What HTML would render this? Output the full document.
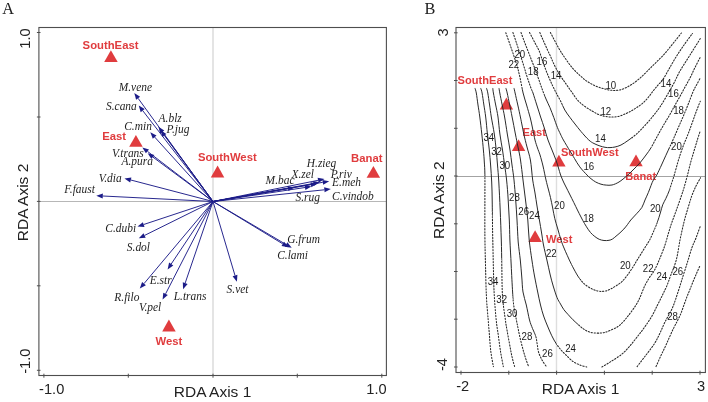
<!DOCTYPE html>
<html><head><meta charset="utf-8"><style>
html,body{margin:0;padding:0;background:#fff;}
svg{display:block;will-change:transform;}
</style></head><body>
<svg width="708" height="402" viewBox="0 0 708 402">
<rect width="708" height="402" fill="#fff"/>
<text x="2.3" y="13.6" font-family="Liberation Serif" font-size="16.3" fill="#222">A</text>
<text x="424.5" y="13.6" font-family="Liberation Serif" font-size="16.3" fill="#222">B</text>
<line x1="213.0" y1="27.5" x2="213.0" y2="375.5" stroke="#dedede" stroke-width="1.6"/>
<line x1="38.9" y1="201.5" x2="386.4" y2="201.5" stroke="#a4a4a4" stroke-width="0.8"/>
<rect x="38.9" y="27.5" width="347.5" height="348.0" fill="none" stroke="#4e4e4e" stroke-width="1.1"/>
<line x1="43.9" y1="373.7" x2="43.9" y2="377.7" stroke="#4e4e4e" stroke-width="1"/>
<line x1="128.3" y1="373.7" x2="128.3" y2="377.7" stroke="#4e4e4e" stroke-width="1"/>
<line x1="213.0" y1="373.7" x2="213.0" y2="377.7" stroke="#4e4e4e" stroke-width="1"/>
<line x1="297.3" y1="373.7" x2="297.3" y2="377.7" stroke="#4e4e4e" stroke-width="1"/>
<line x1="381.8" y1="373.7" x2="381.8" y2="377.7" stroke="#4e4e4e" stroke-width="1"/>
<line x1="40.5" y1="32.5" x2="36.9" y2="32.5" stroke="#4e4e4e" stroke-width="1"/>
<line x1="40.5" y1="117.0" x2="36.9" y2="117.0" stroke="#4e4e4e" stroke-width="1"/>
<line x1="40.5" y1="201.4" x2="36.9" y2="201.4" stroke="#4e4e4e" stroke-width="1"/>
<line x1="40.5" y1="285.8" x2="36.9" y2="285.8" stroke="#4e4e4e" stroke-width="1"/>
<line x1="40.5" y1="370.3" x2="36.9" y2="370.3" stroke="#4e4e4e" stroke-width="1"/>
<text x="51.7" y="393.8" font-family="Liberation Sans" font-size="14.6" fill="#222" text-anchor="middle">-1.0</text>
<text x="376.5" y="393.8" font-family="Liberation Sans" font-size="14.6" fill="#222" text-anchor="middle">1.0</text>
<text transform="translate(212.5,397.2) scale(1.055,1)" font-family="Liberation Sans" font-size="14.7" fill="#222" text-anchor="middle">RDA Axis 1</text>
<text transform="translate(30.2,38.5) rotate(-90)" font-family="Liberation Sans" font-size="14.6" fill="#222" text-anchor="middle">1.0</text>
<text transform="translate(30.0,361.2) rotate(-90)" font-family="Liberation Sans" font-size="14.6" fill="#222" text-anchor="middle">-1.0</text>
<text transform="translate(28.0,202.5) rotate(-90) scale(1.055,1)" font-family="Liberation Sans" font-size="14.7" fill="#222" text-anchor="middle">RDA Axis 2</text>
<line x1="213.0" y1="201.5" x2="138.1" y2="98.3" stroke="#1c1c88" stroke-width="0.95"/><polygon points="134.3,93.0 140.1,96.8 136.1,99.7" fill="#1c1c88"/>
<line x1="213.0" y1="201.5" x2="142.7" y2="110.6" stroke="#1c1c88" stroke-width="0.95"/><polygon points="138.7,105.5 144.7,109.1 140.7,112.2" fill="#1c1c88"/>
<line x1="213.0" y1="201.5" x2="162.2" y2="132.0" stroke="#1c1c88" stroke-width="0.95"/><polygon points="158.4,126.8 164.3,130.6 160.2,133.5" fill="#1c1c88"/>
<line x1="213.0" y1="201.5" x2="164.4" y2="135.5" stroke="#1c1c88" stroke-width="0.95"/><polygon points="160.5,130.3 166.4,134.0 162.3,137.0" fill="#1c1c88"/>
<line x1="213.0" y1="201.5" x2="154.7" y2="137.1" stroke="#1c1c88" stroke-width="0.95"/><polygon points="150.3,132.3 156.5,135.4 152.8,138.8" fill="#1c1c88"/>
<line x1="213.0" y1="201.5" x2="147.5" y2="151.4" stroke="#1c1c88" stroke-width="0.95"/><polygon points="142.3,147.4 149.0,149.4 145.9,153.3" fill="#1c1c88"/>
<line x1="213.0" y1="201.5" x2="152.9" y2="157.1" stroke="#1c1c88" stroke-width="0.95"/><polygon points="147.7,153.2 154.4,155.1 151.4,159.1" fill="#1c1c88"/>
<line x1="213.0" y1="201.5" x2="130.8" y2="180.0" stroke="#1c1c88" stroke-width="0.95"/><polygon points="124.5,178.4 131.4,177.6 130.2,182.5" fill="#1c1c88"/>
<line x1="213.0" y1="201.5" x2="102.8" y2="196.0" stroke="#1c1c88" stroke-width="0.95"/><polygon points="96.3,195.7 102.9,193.5 102.7,198.5" fill="#1c1c88"/>
<line x1="213.0" y1="201.5" x2="143.7" y2="224.5" stroke="#1c1c88" stroke-width="0.95"/><polygon points="137.5,226.6 142.9,222.2 144.5,226.9" fill="#1c1c88"/>
<line x1="213.0" y1="201.5" x2="144.6" y2="235.4" stroke="#1c1c88" stroke-width="0.95"/><polygon points="138.8,238.3 143.5,233.2 145.7,237.7" fill="#1c1c88"/>
<line x1="213.0" y1="201.5" x2="171.2" y2="264.0" stroke="#1c1c88" stroke-width="0.95"/><polygon points="167.6,269.4 169.1,262.6 173.3,265.4" fill="#1c1c88"/>
<line x1="213.0" y1="201.5" x2="144.0" y2="283.6" stroke="#1c1c88" stroke-width="0.95"/><polygon points="139.8,288.6 142.1,282.0 145.9,285.2" fill="#1c1c88"/>
<line x1="213.0" y1="201.5" x2="165.6" y2="293.8" stroke="#1c1c88" stroke-width="0.95"/><polygon points="162.6,299.6 163.3,292.7 167.8,295.0" fill="#1c1c88"/>
<line x1="213.0" y1="201.5" x2="185.2" y2="283.0" stroke="#1c1c88" stroke-width="0.95"/><polygon points="183.1,289.2 182.8,282.2 187.6,283.9" fill="#1c1c88"/>
<line x1="213.0" y1="201.5" x2="235.0" y2="275.5" stroke="#1c1c88" stroke-width="0.95"/><polygon points="236.9,281.7 232.6,276.2 237.4,274.8" fill="#1c1c88"/>
<line x1="213.0" y1="201.5" x2="286.1" y2="244.5" stroke="#1c1c88" stroke-width="0.95"/><polygon points="291.7,247.8 284.8,246.7 287.4,242.3" fill="#1c1c88"/>
<line x1="213.0" y1="201.5" x2="282.8" y2="243.9" stroke="#1c1c88" stroke-width="0.95"/><polygon points="288.4,247.3 281.5,246.1 284.1,241.8" fill="#1c1c88"/>
<line x1="213.0" y1="201.5" x2="318.1" y2="180.3" stroke="#1c1c88" stroke-width="0.95"/><polygon points="324.5,179.0 318.6,182.7 317.6,177.8" fill="#1c1c88"/>
<line x1="213.0" y1="201.5" x2="310.9" y2="184.7" stroke="#1c1c88" stroke-width="0.95"/><polygon points="317.3,183.6 311.3,187.2 310.5,182.2" fill="#1c1c88"/>
<line x1="213.0" y1="201.5" x2="313.4" y2="183.5" stroke="#1c1c88" stroke-width="0.95"/><polygon points="319.8,182.3 313.8,185.9 313.0,181.0" fill="#1c1c88"/>
<line x1="213.0" y1="201.5" x2="288.0" y2="188.5" stroke="#1c1c88" stroke-width="0.95"/><polygon points="294.4,187.4 288.4,191.0 287.6,186.0" fill="#1c1c88"/>
<line x1="213.0" y1="201.5" x2="322.8" y2="182.3" stroke="#1c1c88" stroke-width="0.95"/><polygon points="329.2,181.2 323.2,184.8 322.4,179.9" fill="#1c1c88"/>
<line x1="213.0" y1="201.5" x2="305.0" y2="187.5" stroke="#1c1c88" stroke-width="0.95"/><polygon points="311.4,186.5 305.4,190.0 304.6,185.0" fill="#1c1c88"/>
<line x1="213.0" y1="201.5" x2="324.3" y2="189.8" stroke="#1c1c88" stroke-width="0.95"/><polygon points="330.8,189.1 324.6,192.3 324.1,187.3" fill="#1c1c88"/>
<text transform="translate(118.7,90.6) scale(1.05,1.14)" font-family="Liberation Serif" font-style="italic" font-size="10.9" fill="#1e1e1e">M.vene</text>
<text transform="translate(106.0,109.7) scale(1.05,1.14)" font-family="Liberation Serif" font-style="italic" font-size="10.9" fill="#1e1e1e">S.cana</text>
<text transform="translate(158.6,122.3) scale(1.05,1.14)" font-family="Liberation Serif" font-style="italic" font-size="10.9" fill="#1e1e1e">A.blz</text>
<text transform="translate(166.5,132.6) scale(1.05,1.14)" font-family="Liberation Serif" font-style="italic" font-size="10.9" fill="#1e1e1e">P.jug</text>
<text transform="translate(124.2,129.7) scale(1.05,1.14)" font-family="Liberation Serif" font-style="italic" font-size="10.9" fill="#1e1e1e">C.min</text>
<text transform="translate(111.9,156.5) scale(1.05,1.14)" font-family="Liberation Serif" font-style="italic" font-size="10.9" fill="#1e1e1e">V.trans</text>
<text transform="translate(121.4,164.5) scale(1.05,1.14)" font-family="Liberation Serif" font-style="italic" font-size="10.9" fill="#1e1e1e">A.pura</text>
<text transform="translate(98.7,182.4) scale(1.05,1.14)" font-family="Liberation Serif" font-style="italic" font-size="10.9" fill="#1e1e1e">V.dia</text>
<text transform="translate(64.3,192.7) scale(1.05,1.14)" font-family="Liberation Serif" font-style="italic" font-size="10.9" fill="#1e1e1e">F.faust</text>
<text transform="translate(105.3,232.1) scale(1.05,1.14)" font-family="Liberation Serif" font-style="italic" font-size="10.9" fill="#1e1e1e">C.dubi</text>
<text transform="translate(126.8,250.8) scale(1.05,1.14)" font-family="Liberation Serif" font-style="italic" font-size="10.9" fill="#1e1e1e">S.dol</text>
<text transform="translate(149.7,283.6) scale(1.05,1.14)" font-family="Liberation Serif" font-style="italic" font-size="10.9" fill="#1e1e1e">E.str</text>
<text transform="translate(114.3,300.5) scale(1.05,1.14)" font-family="Liberation Serif" font-style="italic" font-size="10.9" fill="#1e1e1e">R.filo</text>
<text transform="translate(138.9,311.1) scale(1.05,1.14)" font-family="Liberation Serif" font-style="italic" font-size="10.9" fill="#1e1e1e">V.pel</text>
<text transform="translate(173.7,299.8) scale(1.05,1.14)" font-family="Liberation Serif" font-style="italic" font-size="10.9" fill="#1e1e1e">L.trans</text>
<text transform="translate(226.6,293.1) scale(1.05,1.14)" font-family="Liberation Serif" font-style="italic" font-size="10.9" fill="#1e1e1e">S.vet</text>
<text transform="translate(287.2,243.2) scale(1.05,1.14)" font-family="Liberation Serif" font-style="italic" font-size="10.9" fill="#1e1e1e">G.frum</text>
<text transform="translate(277.2,258.7) scale(1.05,1.14)" font-family="Liberation Serif" font-style="italic" font-size="10.9" fill="#1e1e1e">C.lami</text>
<text transform="translate(306.8,167.2) scale(1.05,1.14)" font-family="Liberation Serif" font-style="italic" font-size="10.9" fill="#1e1e1e">H.zieg</text>
<text transform="translate(291.5,177.7) scale(1.05,1.14)" font-family="Liberation Serif" font-style="italic" font-size="10.9" fill="#1e1e1e">X.zel</text>
<text transform="translate(330.7,177.7) scale(1.05,1.14)" font-family="Liberation Serif" font-style="italic" font-size="10.9" fill="#1e1e1e">P.riv</text>
<text transform="translate(265.6,183.6) scale(1.05,1.14)" font-family="Liberation Serif" font-style="italic" font-size="10.9" fill="#1e1e1e">M.bac</text>
<text transform="translate(332.1,186.3) scale(1.05,1.14)" font-family="Liberation Serif" font-style="italic" font-size="10.9" fill="#1e1e1e">E.meh</text>
<text transform="translate(295.5,200.6) scale(1.05,1.14)" font-family="Liberation Serif" font-style="italic" font-size="10.9" fill="#1e1e1e">S.rug</text>
<text transform="translate(332.1,200.2) scale(1.05,1.14)" font-family="Liberation Serif" font-style="italic" font-size="10.9" fill="#1e1e1e">C.vindob</text>
<polygon points="110.9,50.3 104.2,62.1 117.7,62.1" fill="#e03c3e"/>
<text x="82.6" y="48.9" font-family="Liberation Sans" font-weight="bold" font-size="11.3" fill="#e03c3e">SouthEast</text>
<polygon points="135.9,134.9 129.2,146.7 142.7,146.7" fill="#e03c3e"/>
<text x="102.2" y="139.7" font-family="Liberation Sans" font-weight="bold" font-size="11.3" fill="#e03c3e">East</text>
<polygon points="217.6,165.6 210.8,177.4 224.3,177.4" fill="#e03c3e"/>
<text x="256.7" y="160.9" font-family="Liberation Sans" font-weight="bold" font-size="11.3" fill="#e03c3e" text-anchor="end">SouthWest</text>
<polygon points="373.4,166.0 366.6,177.8 380.1,177.8" fill="#e03c3e"/>
<text x="351.1" y="162.3" font-family="Liberation Sans" font-weight="bold" font-size="11.3" fill="#e03c3e">Banat</text>
<polygon points="168.9,319.6 162.2,331.4 175.7,331.4" fill="#e03c3e"/>
<text x="155.5" y="345.2" font-family="Liberation Sans" font-weight="bold" font-size="11.3" fill="#e03c3e">West</text>
<line x1="556.5" y1="27.5" x2="556.5" y2="372.5" stroke="#dedede" stroke-width="1.4"/>
<line x1="456.0" y1="176.5" x2="705.4" y2="176.5" stroke="#8c8c8c" stroke-width="0.8"/>
<polygon points="506.4,97.6 499.7,109.4 513.1,109.4" fill="#e03c3e"/>
<text x="457.6" y="84.2" font-family="Liberation Sans" font-weight="bold" font-size="11.1" fill="#e03c3e">SouthEast</text>
<polygon points="518.6,139.2 511.9,151.0 525.3,151.0" fill="#e03c3e"/>
<text x="522.5" y="136.4" font-family="Liberation Sans" font-weight="bold" font-size="11.1" fill="#e03c3e">East</text>
<polygon points="558.9,154.8 552.2,166.6 565.6,166.6" fill="#e03c3e"/>
<text x="560.9" y="155.6" font-family="Liberation Sans" font-weight="bold" font-size="11.1" fill="#e03c3e">SouthWest</text>
<polygon points="636.0,154.4 629.3,166.2 642.7,166.2" fill="#e03c3e"/>
<text x="625.3" y="179.6" font-family="Liberation Sans" font-weight="bold" font-size="11.1" fill="#e03c3e">Banat</text>
<polygon points="535.1,230.3 528.4,242.1 541.8,242.1" fill="#e03c3e"/>
<text x="546.1" y="243.4" font-family="Liberation Sans" font-weight="bold" font-size="11.1" fill="#e03c3e">West</text>
<defs>
<clipPath id="inR"><path d="M465,87.3 L520,87.3 L533,91 L547,97 L564,106 L585,122 L610,131 L628,135 L634,141 L651,147 L660,149 L669,149 L670,199 L653,231 L620,258 L580,279 L578.7,325 L556.3,344 L535.7,336 L513,299 L500.7,257 L492.4,216 L484.9,174 L465,174 Z"/></clipPath>
<clipPath id="outR"><path clip-rule="evenodd" d="M0,0 L708,0 L708,402 L0,402 Z M465,87.3 L520,87.3 L533,91 L547,97 L564,106 L585,122 L610,131 L628,135 L634,141 L651,147 L660,149 L669,149 L670,199 L653,231 L620,258 L580,279 L578.7,325 L556.3,344 L535.7,336 L513,299 L500.7,257 L492.4,216 L484.9,174 L465,174 Z"/></clipPath>
</defs>
<g fill="none" stroke="#2a2a2a" stroke-width="1" clip-path="url(#inR)">
<path d="M550.4,32.5 C551.8,35.1 556.2,43.6 558.6,47.9 C561.0,52.1 562.7,54.7 565.0,58.0 C567.3,61.3 569.8,64.9 572.3,67.8 C574.8,70.7 577.5,73.2 580.0,75.5 C582.5,77.8 584.5,79.6 587.2,81.4 C589.9,83.2 593.1,85.0 596.0,86.2 C598.9,87.5 601.8,88.2 604.6,88.9 C607.4,89.6 610.3,90.3 613.0,90.4 C615.7,90.5 618.2,90.4 621.0,89.6 C623.8,88.8 627.0,87.3 630.0,85.5 C633.0,83.7 636.1,81.4 639.0,79.0 C641.9,76.6 644.6,73.8 647.4,71.0 C650.2,68.2 653.1,65.4 656.0,62.5 C658.9,59.6 662.0,56.7 664.8,53.5 C667.6,50.3 670.2,46.9 673.0,43.5 C675.8,40.1 680.0,34.8 681.4,33.0"/>
<path d="M539.8,32.5 C540.4,33.9 542.2,38.1 543.5,41.0 C544.8,43.9 546.3,47.3 547.5,50.0 C548.7,52.7 549.8,54.7 550.8,57.0 C551.8,59.3 552.6,61.4 553.7,63.7 C554.8,66.0 556.2,68.8 557.5,71.0 C558.8,73.2 560.0,75.1 561.2,77.0 C562.4,78.9 563.3,80.0 564.9,82.3 C566.5,84.6 568.9,88.1 571.0,91.0 C573.1,93.9 575.1,97.3 577.3,99.8 C579.5,102.3 581.5,103.9 584.0,105.8 C586.5,107.7 589.8,109.6 592.1,111.0 C594.4,112.4 595.9,113.4 598.0,114.3 C600.1,115.2 602.4,115.8 604.6,116.2 C606.8,116.7 608.8,117.0 611.0,117.0 C613.2,117.0 615.5,117.1 618.0,116.5 C620.5,115.9 623.7,114.6 626.0,113.6 C628.3,112.6 630.0,111.7 632.0,110.5 C634.0,109.3 636.3,107.9 638.2,106.6 C640.1,105.3 641.8,104.1 643.5,102.5 C645.2,100.9 646.9,99.1 648.6,97.0 C650.3,94.9 652.2,92.1 653.9,90.0 C655.5,87.9 657.0,86.3 658.5,84.5 C660.0,82.7 661.2,82.0 663.0,79.4 C664.8,76.8 666.8,72.7 669.0,69.0 C671.2,65.3 673.5,61.0 676.0,57.0 C678.5,53.0 681.3,48.9 684.0,45.0 C686.7,41.1 691.0,35.4 692.4,33.5"/>
<path d="M529.5,32.5 C530.4,34.2 533.4,39.8 535.0,42.9 C536.6,46.0 538.0,48.1 539.2,51.0 C540.4,53.9 541.2,57.0 542.3,60.0 C543.3,63.0 544.4,66.0 545.5,69.0 C546.6,72.0 547.8,75.0 549.0,77.7 C550.2,80.5 551.3,83.0 552.5,85.5 C553.7,88.0 554.7,90.1 556.0,92.6 C557.3,95.1 558.8,97.6 560.3,100.5 C561.8,103.4 563.2,107.2 564.8,110.0 C566.4,112.8 568.3,115.2 570.0,117.5 C571.7,119.8 573.2,121.7 575.0,124.0 C576.8,126.3 578.7,128.8 581.0,131.5 C583.3,134.2 586.6,138.0 588.8,140.0 C591.0,142.0 592.1,142.5 594.0,143.5 C595.9,144.5 598.2,145.4 600.0,146.0 C601.8,146.6 603.3,147.0 605.0,147.3 C606.7,147.6 608.3,147.7 610.0,147.6 C611.7,147.5 613.2,147.4 615.0,147.0 C616.8,146.6 618.8,146.1 621.0,145.0 C623.2,143.9 625.5,142.3 628.0,140.5 C630.5,138.7 633.2,136.9 636.0,134.4 C638.8,131.9 642.0,128.6 645.0,125.4 C648.0,122.2 651.3,118.3 653.9,115.0 C656.5,111.7 658.3,109.5 660.8,105.7 C663.3,101.9 666.7,95.9 668.9,92.1 C671.1,88.3 672.1,86.5 674.0,83.0 C675.9,79.5 677.3,75.7 680.0,71.0 C682.7,66.3 686.6,60.5 690.0,55.0 C693.4,49.5 698.8,41.1 700.5,38.3"/>
<path d="M521.0,32.5 C521.6,34.1 523.3,38.9 524.5,42.0 C525.7,45.1 526.8,48.0 528.0,51.0 C529.2,54.0 530.3,57.0 531.5,60.0 C532.7,63.0 533.8,65.8 535.0,69.0 C536.2,72.2 537.5,76.0 538.8,79.5 C540.0,83.0 541.3,86.8 542.5,90.1 C543.7,93.3 544.8,96.1 546.0,99.0 C547.2,101.9 548.6,104.4 549.9,107.5 C551.2,110.6 552.5,114.2 553.8,117.5 C555.0,120.8 556.3,124.7 557.4,127.4 C558.5,130.2 559.4,131.9 560.4,134.0 C561.4,136.1 561.8,137.2 563.4,140.0 C565.0,142.8 568.0,147.8 569.9,150.9 C571.8,154.0 572.9,155.8 574.5,158.5 C576.1,161.2 577.7,164.2 579.8,166.9 C581.9,169.7 585.1,173.0 587.0,175.0 C588.9,177.0 589.5,177.5 591.0,178.7 C592.5,179.9 594.0,181.1 595.7,182.0 C597.4,182.9 599.2,183.7 601.0,184.2 C602.8,184.7 604.4,185.0 606.2,185.1 C608.0,185.2 609.9,185.5 612.0,185.0 C614.1,184.5 616.5,183.5 619.0,182.0 C621.5,180.5 624.6,177.8 626.9,175.8 C629.2,173.8 630.8,172.2 633.0,170.0 C635.2,167.8 637.7,165.4 639.9,162.9 C642.1,160.4 644.1,157.5 646.0,155.0 C647.9,152.5 649.4,150.4 651.0,147.8 C652.6,145.2 654.0,142.2 655.5,139.5 C657.0,136.8 658.4,134.2 659.9,131.4 C661.4,128.7 663.2,125.7 664.8,123.0 C666.4,120.3 668.0,117.8 669.6,115.0 C671.2,112.2 672.9,108.9 674.5,106.0 C676.1,103.1 677.7,100.4 679.4,97.4 C681.1,94.4 682.7,91.2 684.5,88.0 C686.3,84.8 688.3,81.2 690.0,78.0 C691.7,74.8 693.0,71.5 694.5,68.5 C696.0,65.5 697.8,61.9 698.8,60.0 C699.8,58.1 700.1,57.5 700.4,57.0"/>
<path d="M512.9,32.5 C513.5,34.2 515.3,39.4 516.5,43.0 C517.7,46.6 518.8,50.3 520.0,54.0 C521.2,57.7 522.4,61.5 523.5,65.0 C524.6,68.5 525.5,71.8 526.5,75.0 C527.5,78.2 528.6,81.4 529.5,84.0 C530.4,86.6 531.3,89.0 531.9,90.5 C532.5,92.0 532.2,90.6 533.0,93.0 C533.8,95.4 535.5,101.0 536.8,105.0 C538.1,109.0 539.4,113.2 540.6,117.0 C541.9,120.8 543.1,124.2 544.3,128.0 C545.5,131.8 546.7,136.3 548.0,140.0 C549.3,143.7 550.7,146.7 552.0,150.0 C553.3,153.3 554.8,156.9 555.9,159.9 C557.0,162.9 557.7,165.5 558.5,168.0 C559.3,170.5 559.7,172.5 560.6,175.0 C561.5,177.5 562.8,180.4 564.0,183.0 C565.2,185.6 566.6,188.1 567.9,190.7 C569.2,193.3 570.5,195.9 571.8,198.5 C573.1,201.1 574.5,203.9 575.7,206.4 C576.9,208.9 578.0,211.2 579.2,213.5 C580.4,215.8 581.5,218.1 582.7,220.3 C583.9,222.5 585.2,224.8 586.5,226.8 C587.8,228.8 589.1,230.9 590.5,232.5 C591.9,234.1 593.3,235.4 594.8,236.5 C596.2,237.6 597.7,238.6 599.2,239.3 C600.7,240.0 602.4,240.3 604.0,240.5 C605.6,240.7 607.6,240.6 609.0,240.3 C610.4,240.1 611.3,239.7 612.5,239.0 C613.7,238.3 614.8,237.2 616.0,236.2 C617.2,235.2 618.7,234.0 620.0,232.8 C621.3,231.6 622.7,230.3 623.9,229.0 C625.1,227.7 626.2,226.2 627.4,224.7 C628.5,223.2 629.3,221.8 630.8,220.0 C632.3,218.2 634.7,215.9 636.5,213.8 C638.3,211.7 640.4,209.9 641.8,207.6 C643.2,205.3 643.9,202.5 645.0,200.0 C646.1,197.5 647.4,194.8 648.4,192.4 C649.4,190.0 650.2,187.6 651.0,185.5 C651.8,183.4 652.4,181.8 653.4,180.0 C654.4,178.2 655.4,177.4 656.8,174.9 C658.1,172.4 660.0,168.3 661.5,165.0 C663.0,161.7 664.5,158.4 665.9,155.3 C667.3,152.2 668.6,149.5 670.0,146.5 C671.4,143.5 672.6,140.8 674.1,137.4 C675.6,134.0 677.4,129.7 679.0,126.0 C680.6,122.3 682.2,118.8 683.8,115.0 C685.4,111.2 687.0,107.3 688.5,103.5 C690.0,99.7 691.6,95.2 692.9,92.1 C694.2,89.0 695.2,87.4 696.5,85.0 C697.8,82.6 699.8,78.8 700.4,77.6"/>
<path d="M505.8,32.7 C506.6,34.9 509.0,41.6 510.5,46.0 C512.0,50.4 513.7,55.3 515.0,59.3 C516.3,63.3 517.3,66.5 518.2,70.0 C519.1,73.5 519.7,76.2 520.5,80.0 C521.3,83.8 522.1,88.8 523.1,93.0 C524.1,97.2 525.4,100.8 526.6,105.0 C527.8,109.2 529.3,114.2 530.3,118.0 C531.3,121.8 531.7,124.3 532.5,128.0 C533.3,131.7 534.2,136.7 535.0,140.0 C535.8,143.3 536.7,145.5 537.5,148.0 C538.3,150.5 539.1,151.9 540.0,154.9 C540.9,157.9 542.0,161.8 543.0,166.0 C544.0,170.2 545.1,176.2 546.0,180.0 C546.9,183.8 547.5,186.1 548.3,189.0 C549.0,191.9 549.8,194.4 550.5,197.6 C551.2,200.8 552.0,204.5 552.7,208.0 C553.4,211.5 553.9,215.1 554.8,218.6 C555.6,222.1 556.8,225.4 557.8,229.0 C558.8,232.6 560.0,236.8 561.0,240.0 C562.0,243.2 562.9,245.4 564.0,248.0 C565.1,250.6 566.1,252.9 567.4,255.7 C568.6,258.4 570.0,261.6 571.5,264.5 C573.0,267.4 574.8,270.8 576.1,273.1 C577.4,275.4 578.3,276.9 579.5,278.5 C580.7,280.1 581.7,281.3 583.1,282.7 C584.5,284.1 586.2,285.5 588.0,286.7 C589.8,287.9 591.9,289.0 593.6,289.7 C595.3,290.4 596.5,290.7 598.0,291.0 C599.5,291.3 600.8,291.5 602.3,291.4 C603.8,291.3 605.5,291.0 607.0,290.6 C608.5,290.2 609.4,289.6 611.0,288.8 C612.6,288.0 614.7,286.8 616.5,285.6 C618.3,284.4 620.1,283.4 621.9,281.7 C623.6,280.0 625.4,277.8 627.0,275.7 C628.6,273.6 630.3,271.0 631.8,268.8 C633.3,266.6 634.5,264.5 635.8,262.3 C637.1,260.1 638.3,258.2 639.8,255.8 C641.3,253.4 643.1,250.5 644.8,247.8 C646.4,245.2 648.2,242.6 649.7,239.9 C651.2,237.2 652.2,234.4 653.5,231.5 C654.8,228.6 656.2,225.5 657.3,222.4 C658.4,219.3 659.4,215.9 660.3,213.0 C661.2,210.1 661.8,207.2 662.7,204.8 C663.6,202.4 664.7,201.1 665.8,198.6 C666.9,196.1 668.5,192.8 669.5,190.0 C670.5,187.2 671.2,184.5 672.0,182.0 C672.8,179.5 673.4,178.2 674.3,175.0 C675.2,171.8 676.6,166.5 677.6,163.0 C678.6,159.5 679.5,156.8 680.4,154.0 C681.3,151.2 682.2,148.7 683.2,146.0 C684.2,143.3 685.4,140.7 686.5,138.0 C687.6,135.3 688.6,132.7 689.6,130.0 C690.6,127.3 691.5,124.7 692.5,122.0 C693.5,119.3 694.4,116.4 695.3,114.0 C696.2,111.6 697.0,109.6 697.8,107.5 C698.6,105.4 699.9,102.2 700.3,101.2"/>
<path d="M514.0,88.2 C514.2,89.0 514.5,90.2 515.1,93.0 C515.7,95.8 516.9,101.0 517.8,105.0 C518.7,109.0 519.7,113.7 520.4,117.0 C521.1,120.3 521.4,122.2 522.0,125.0 C522.6,127.8 523.0,130.3 523.8,134.0 C524.6,137.7 525.9,142.7 527.0,147.0 C528.1,151.3 529.4,154.5 530.4,160.0 C531.4,165.5 531.9,174.5 532.7,180.0 C533.5,185.5 534.3,188.7 535.0,193.0 C535.7,197.3 536.3,201.5 537.0,206.0 C537.7,210.5 538.6,215.5 539.4,220.0 C540.2,224.5 540.9,228.8 541.6,233.0 C542.3,237.2 542.6,240.5 543.5,245.0 C544.4,249.5 545.8,255.2 546.9,260.0 C548.0,264.8 549.0,269.7 550.0,274.0 C551.0,278.3 552.0,282.1 553.2,286.0 C554.4,289.9 555.8,294.5 557.0,297.5 C558.2,300.5 559.4,302.0 560.5,304.0 C561.6,306.0 562.7,308.0 563.9,309.7 C565.1,311.4 566.4,312.6 567.9,314.3 C569.4,316.0 571.2,318.0 573.0,319.8 C574.8,321.6 577.0,323.5 578.7,325.0 C580.4,326.5 581.5,327.6 583.0,328.6 C584.5,329.7 585.9,330.6 587.6,331.3 C589.3,332.0 590.9,332.5 593.0,332.8 C595.1,333.1 598.1,333.2 600.1,333.1 C602.1,333.0 603.2,332.8 605.0,332.3 C606.8,331.8 608.6,331.2 611.0,330.1 C613.4,329.0 616.7,327.8 619.5,325.4 C622.3,323.0 625.0,319.9 628.0,316.0 C631.0,312.1 635.0,307.1 637.8,302.0 C640.6,296.9 642.8,289.8 644.8,285.7 C646.8,281.6 647.9,280.1 649.5,277.5 C651.1,274.9 653.0,273.1 654.7,269.8 C656.5,266.6 658.3,262.1 660.0,258.0 C661.7,253.9 663.6,249.2 665.0,245.0 C666.4,240.8 667.3,236.8 668.5,233.0 C669.7,229.2 670.6,225.9 672.0,222.0 C673.4,218.1 675.1,213.8 676.6,209.5 C678.1,205.2 680.0,200.0 681.3,196.1 C682.6,192.2 683.5,189.5 684.5,186.0 C685.5,182.5 686.5,178.8 687.5,175.0 C688.5,171.2 689.4,167.0 690.5,163.0 C691.6,159.0 692.9,154.7 694.0,151.0 C695.1,147.3 696.0,144.4 697.0,141.0 C698.0,137.6 699.8,132.4 700.3,130.7"/>
<path d="M505.9,88.2 C506.1,89.0 506.6,90.2 507.2,93.0 C507.8,95.8 508.9,101.0 509.7,105.0 C510.5,109.0 511.2,112.2 512.1,117.0 C513.1,121.8 514.4,129.0 515.4,134.0 C516.4,139.0 517.1,142.7 518.0,147.0 C518.9,151.3 519.7,154.5 520.5,160.0 C521.3,165.5 522.2,173.3 523.0,180.0 C523.8,186.7 524.7,193.3 525.5,200.0 C526.3,206.7 527.2,213.3 527.8,220.0 C528.4,226.7 528.5,233.3 529.2,240.0 C529.9,246.7 531.0,254.0 531.9,260.0 C532.8,266.0 533.5,270.7 534.5,276.0 C535.5,281.3 536.7,287.2 537.7,292.0 C538.7,296.8 539.5,301.0 540.5,305.0 C541.5,309.0 542.4,312.5 543.6,316.0 C544.8,319.5 546.1,322.7 547.5,326.0 C548.9,329.3 550.3,332.8 551.8,335.8 C553.3,338.8 554.7,341.4 556.3,343.8 C557.9,346.2 559.7,348.5 561.5,350.5 C563.3,352.5 565.0,354.1 567.0,356.0 C569.0,357.9 571.1,360.2 573.3,361.7 C575.5,363.2 577.8,364.1 580.0,365.0 C582.2,365.9 585.6,366.7 586.7,367.0"/>
<path d="M601.9,367.0 C603.4,366.1 607.8,363.6 611.0,361.5 C614.2,359.4 618.2,357.1 621.2,354.7 C624.2,352.3 626.5,349.8 629.0,347.0 C631.5,344.2 633.8,341.2 636.3,338.0 C638.8,334.8 641.5,331.5 644.0,328.0 C646.5,324.5 649.2,320.6 651.5,316.8 C653.8,313.0 655.7,308.6 657.5,305.0 C659.3,301.4 661.0,298.2 662.5,295.0 C664.0,291.8 665.4,289.2 666.8,286.0 C668.1,282.8 669.0,280.1 670.6,275.7 C672.2,271.3 674.7,265.8 676.3,259.8 C677.9,253.9 678.7,246.3 680.0,240.0 C681.3,233.7 682.7,227.3 684.0,222.0 C685.3,216.7 686.7,212.3 688.0,208.0 C689.3,203.7 690.4,199.8 691.7,196.1 C693.0,192.4 694.5,189.1 696.0,186.0 C697.5,182.9 699.8,179.2 700.5,177.8"/>
<path d="M499.0,88.2 C499.1,89.0 499.3,90.2 499.8,93.0 C500.3,95.8 501.4,101.0 502.2,105.0 C503.0,109.0 503.8,112.2 504.6,117.0 C505.5,121.8 506.4,128.5 507.3,134.0 C508.2,139.5 509.2,144.8 510.0,150.0 C510.8,155.2 511.3,160.0 512.0,165.0 C512.7,170.0 513.4,174.2 514.0,180.0 C514.6,185.8 515.2,193.3 515.7,200.0 C516.2,206.7 516.6,213.0 517.0,220.0 C517.4,227.0 517.7,235.3 518.2,242.0 C518.8,248.7 519.7,254.3 520.3,260.0 C520.9,265.7 521.2,270.7 521.7,276.0 C522.2,281.3 522.2,287.2 523.0,292.0 C523.8,296.8 525.2,300.3 526.3,305.0 C527.4,309.7 528.5,316.1 529.5,320.0 C530.5,323.9 531.5,325.8 532.5,328.5 C533.5,331.2 534.9,333.4 535.7,336.0 C536.5,338.6 536.7,341.3 537.2,344.0 C537.7,346.7 537.7,349.3 538.5,352.0 C539.3,354.7 540.7,357.6 542.0,360.0 C543.3,362.4 545.7,365.5 546.4,366.6"/>
<path d="M637.1,366.6 C638.6,364.7 643.0,358.9 646.0,355.0 C649.0,351.1 652.5,346.8 654.8,343.1 C657.1,339.4 658.3,336.5 660.0,333.0 C661.7,329.5 662.9,326.2 665.0,322.0 C667.1,317.8 670.3,312.7 672.5,307.7 C674.7,302.7 676.2,297.3 678.0,292.0 C679.8,286.7 681.5,280.9 683.1,275.9 C684.7,270.9 686.0,266.7 687.5,262.0 C689.0,257.3 690.6,251.4 691.9,247.7 C693.2,244.0 694.2,242.4 695.2,240.0 C696.2,237.6 696.9,235.4 697.8,233.0 C698.7,230.6 700.0,226.9 700.5,225.7"/>
<path d="M492.8,88.2 C492.9,89.0 492.9,90.2 493.4,93.0 C493.9,95.8 494.9,101.0 495.7,105.0 C496.5,109.0 497.3,112.2 498.0,117.0 C498.7,121.8 499.1,128.5 499.9,134.0 C500.6,139.5 501.7,144.8 502.5,150.0 C503.3,155.2 503.9,160.0 504.6,165.0 C505.3,170.0 506.0,174.2 506.6,180.0 C507.2,185.8 507.8,193.3 508.2,200.0 C508.6,206.7 509.0,213.3 509.3,220.0 C509.6,226.7 509.6,232.5 509.9,240.0 C510.2,247.5 510.8,256.3 511.2,265.0 C511.6,273.7 512.2,285.3 512.6,292.0 C513.0,298.7 513.1,300.3 513.7,305.0 C514.3,309.7 515.6,315.8 516.4,320.0 C517.2,324.2 517.7,326.5 518.4,330.0 C519.1,333.5 519.9,337.3 520.8,341.0 C521.7,344.7 522.8,348.8 523.7,352.0 C524.6,355.2 525.4,357.6 526.2,360.0 C527.0,362.4 528.2,365.5 528.6,366.6"/>
<path d="M656.0,366.6 C656.8,364.9 659.0,359.8 660.5,356.5 C662.0,353.2 663.6,350.1 665.1,347.0 C666.6,343.9 667.8,340.8 669.2,337.8 C670.6,334.8 672.0,331.4 673.3,328.8 C674.6,326.2 675.6,324.3 676.8,322.0 C677.9,319.7 679.1,317.7 680.2,315.2 C681.3,312.7 682.3,309.6 683.3,306.8 C684.3,304.0 685.3,301.2 686.3,298.5 C687.3,295.8 688.4,293.3 689.4,290.8 C690.4,288.3 691.3,286.1 692.4,283.3 C693.5,280.5 694.9,277.2 696.2,274.2 C697.5,271.1 699.6,266.5 700.3,265.0"/>
<path d="M486.5,88.2 C486.7,89.0 487.3,90.2 487.8,93.0 C488.3,95.8 489.0,101.0 489.6,105.0 C490.2,109.0 490.5,112.2 491.3,117.0 C492.1,121.8 493.5,128.5 494.3,134.0 C495.1,139.5 495.7,144.8 496.2,150.0 C496.7,155.2 497.1,159.7 497.5,165.0 C497.9,170.3 498.4,174.5 498.8,182.0 C499.2,189.5 499.8,200.3 500.2,210.0 C500.6,219.7 501.0,230.8 501.3,240.0 C501.6,249.2 501.6,255.7 501.8,265.0 C502.0,274.3 501.9,286.8 502.5,296.0 C503.1,305.2 504.6,314.3 505.4,320.0 C506.1,325.7 506.4,326.5 507.0,330.0 C507.6,333.5 508.3,337.3 509.0,341.0 C509.7,344.7 510.4,348.8 511.0,352.0 C511.6,355.2 512.2,357.6 512.8,360.0 C513.4,362.4 514.3,365.5 514.6,366.6"/>
<path d="M480.7,88.2 C480.9,89.0 481.6,90.2 482.1,93.0 C482.6,95.8 483.3,101.0 483.9,105.0 C484.5,109.0 485.1,112.2 485.7,117.0 C486.3,121.8 486.8,128.5 487.4,134.0 C488.0,139.5 488.8,144.8 489.3,150.0 C489.8,155.2 490.2,159.7 490.6,165.0 C491.0,170.3 491.4,176.2 491.7,182.0 C492.0,187.8 492.1,194.3 492.2,200.0 C492.3,205.7 492.3,210.0 492.4,216.0 C492.5,222.0 492.5,227.8 492.7,236.0 C492.9,244.2 493.1,255.3 493.3,265.0 C493.6,274.7 493.7,284.8 494.2,294.0 C494.7,303.2 495.5,313.0 496.2,320.0 C496.9,327.0 497.7,330.7 498.4,336.0 C499.1,341.3 499.8,346.9 500.6,352.0 C501.4,357.1 502.9,364.2 503.3,366.6"/>
<path d="M475.0,88.2 C475.2,89.0 475.8,90.2 476.3,93.0 C476.8,95.8 477.4,101.0 478.0,105.0 C478.6,109.0 479.2,112.2 479.8,117.0 C480.4,121.8 481.2,128.5 481.8,134.0 C482.4,139.5 483.0,145.3 483.4,150.0 C483.8,154.7 484.1,157.8 484.3,162.0 C484.6,166.2 484.8,168.7 484.9,175.0 C485.0,181.3 484.9,189.8 484.9,200.0 C484.9,210.2 484.8,225.2 484.9,236.0 C485.0,246.8 485.2,255.0 485.5,265.0 C485.8,275.0 485.9,286.8 486.4,296.0 C486.8,305.2 487.7,313.3 488.2,320.0 C488.7,326.7 489.1,330.7 489.5,336.0 C489.9,341.3 490.2,346.9 490.9,352.0 C491.5,357.1 493.0,364.2 493.4,366.6"/>
</g>
<g fill="none" stroke="#262626" stroke-width="1.05" stroke-linecap="round" stroke-dasharray="1.3 1.7" clip-path="url(#outR)">
<path d="M550.4,32.5 C551.8,35.1 556.2,43.6 558.6,47.9 C561.0,52.1 562.7,54.7 565.0,58.0 C567.3,61.3 569.8,64.9 572.3,67.8 C574.8,70.7 577.5,73.2 580.0,75.5 C582.5,77.8 584.5,79.6 587.2,81.4 C589.9,83.2 593.1,85.0 596.0,86.2 C598.9,87.5 601.8,88.2 604.6,88.9 C607.4,89.6 610.3,90.3 613.0,90.4 C615.7,90.5 618.2,90.4 621.0,89.6 C623.8,88.8 627.0,87.3 630.0,85.5 C633.0,83.7 636.1,81.4 639.0,79.0 C641.9,76.6 644.6,73.8 647.4,71.0 C650.2,68.2 653.1,65.4 656.0,62.5 C658.9,59.6 662.0,56.7 664.8,53.5 C667.6,50.3 670.2,46.9 673.0,43.5 C675.8,40.1 680.0,34.8 681.4,33.0"/>
<path d="M539.8,32.5 C540.4,33.9 542.2,38.1 543.5,41.0 C544.8,43.9 546.3,47.3 547.5,50.0 C548.7,52.7 549.8,54.7 550.8,57.0 C551.8,59.3 552.6,61.4 553.7,63.7 C554.8,66.0 556.2,68.8 557.5,71.0 C558.8,73.2 560.0,75.1 561.2,77.0 C562.4,78.9 563.3,80.0 564.9,82.3 C566.5,84.6 568.9,88.1 571.0,91.0 C573.1,93.9 575.1,97.3 577.3,99.8 C579.5,102.3 581.5,103.9 584.0,105.8 C586.5,107.7 589.8,109.6 592.1,111.0 C594.4,112.4 595.9,113.4 598.0,114.3 C600.1,115.2 602.4,115.8 604.6,116.2 C606.8,116.7 608.8,117.0 611.0,117.0 C613.2,117.0 615.5,117.1 618.0,116.5 C620.5,115.9 623.7,114.6 626.0,113.6 C628.3,112.6 630.0,111.7 632.0,110.5 C634.0,109.3 636.3,107.9 638.2,106.6 C640.1,105.3 641.8,104.1 643.5,102.5 C645.2,100.9 646.9,99.1 648.6,97.0 C650.3,94.9 652.2,92.1 653.9,90.0 C655.5,87.9 657.0,86.3 658.5,84.5 C660.0,82.7 661.2,82.0 663.0,79.4 C664.8,76.8 666.8,72.7 669.0,69.0 C671.2,65.3 673.5,61.0 676.0,57.0 C678.5,53.0 681.3,48.9 684.0,45.0 C686.7,41.1 691.0,35.4 692.4,33.5"/>
<path d="M529.5,32.5 C530.4,34.2 533.4,39.8 535.0,42.9 C536.6,46.0 538.0,48.1 539.2,51.0 C540.4,53.9 541.2,57.0 542.3,60.0 C543.3,63.0 544.4,66.0 545.5,69.0 C546.6,72.0 547.8,75.0 549.0,77.7 C550.2,80.5 551.3,83.0 552.5,85.5 C553.7,88.0 554.7,90.1 556.0,92.6 C557.3,95.1 558.8,97.6 560.3,100.5 C561.8,103.4 563.2,107.2 564.8,110.0 C566.4,112.8 568.3,115.2 570.0,117.5 C571.7,119.8 573.2,121.7 575.0,124.0 C576.8,126.3 578.7,128.8 581.0,131.5 C583.3,134.2 586.6,138.0 588.8,140.0 C591.0,142.0 592.1,142.5 594.0,143.5 C595.9,144.5 598.2,145.4 600.0,146.0 C601.8,146.6 603.3,147.0 605.0,147.3 C606.7,147.6 608.3,147.7 610.0,147.6 C611.7,147.5 613.2,147.4 615.0,147.0 C616.8,146.6 618.8,146.1 621.0,145.0 C623.2,143.9 625.5,142.3 628.0,140.5 C630.5,138.7 633.2,136.9 636.0,134.4 C638.8,131.9 642.0,128.6 645.0,125.4 C648.0,122.2 651.3,118.3 653.9,115.0 C656.5,111.7 658.3,109.5 660.8,105.7 C663.3,101.9 666.7,95.9 668.9,92.1 C671.1,88.3 672.1,86.5 674.0,83.0 C675.9,79.5 677.3,75.7 680.0,71.0 C682.7,66.3 686.6,60.5 690.0,55.0 C693.4,49.5 698.8,41.1 700.5,38.3"/>
<path d="M521.0,32.5 C521.6,34.1 523.3,38.9 524.5,42.0 C525.7,45.1 526.8,48.0 528.0,51.0 C529.2,54.0 530.3,57.0 531.5,60.0 C532.7,63.0 533.8,65.8 535.0,69.0 C536.2,72.2 537.5,76.0 538.8,79.5 C540.0,83.0 541.3,86.8 542.5,90.1 C543.7,93.3 544.8,96.1 546.0,99.0 C547.2,101.9 548.6,104.4 549.9,107.5 C551.2,110.6 552.5,114.2 553.8,117.5 C555.0,120.8 556.3,124.7 557.4,127.4 C558.5,130.2 559.4,131.9 560.4,134.0 C561.4,136.1 561.8,137.2 563.4,140.0 C565.0,142.8 568.0,147.8 569.9,150.9 C571.8,154.0 572.9,155.8 574.5,158.5 C576.1,161.2 577.7,164.2 579.8,166.9 C581.9,169.7 585.1,173.0 587.0,175.0 C588.9,177.0 589.5,177.5 591.0,178.7 C592.5,179.9 594.0,181.1 595.7,182.0 C597.4,182.9 599.2,183.7 601.0,184.2 C602.8,184.7 604.4,185.0 606.2,185.1 C608.0,185.2 609.9,185.5 612.0,185.0 C614.1,184.5 616.5,183.5 619.0,182.0 C621.5,180.5 624.6,177.8 626.9,175.8 C629.2,173.8 630.8,172.2 633.0,170.0 C635.2,167.8 637.7,165.4 639.9,162.9 C642.1,160.4 644.1,157.5 646.0,155.0 C647.9,152.5 649.4,150.4 651.0,147.8 C652.6,145.2 654.0,142.2 655.5,139.5 C657.0,136.8 658.4,134.2 659.9,131.4 C661.4,128.7 663.2,125.7 664.8,123.0 C666.4,120.3 668.0,117.8 669.6,115.0 C671.2,112.2 672.9,108.9 674.5,106.0 C676.1,103.1 677.7,100.4 679.4,97.4 C681.1,94.4 682.7,91.2 684.5,88.0 C686.3,84.8 688.3,81.2 690.0,78.0 C691.7,74.8 693.0,71.5 694.5,68.5 C696.0,65.5 697.8,61.9 698.8,60.0 C699.8,58.1 700.1,57.5 700.4,57.0"/>
<path d="M512.9,32.5 C513.5,34.2 515.3,39.4 516.5,43.0 C517.7,46.6 518.8,50.3 520.0,54.0 C521.2,57.7 522.4,61.5 523.5,65.0 C524.6,68.5 525.5,71.8 526.5,75.0 C527.5,78.2 528.6,81.4 529.5,84.0 C530.4,86.6 531.3,89.0 531.9,90.5 C532.5,92.0 532.2,90.6 533.0,93.0 C533.8,95.4 535.5,101.0 536.8,105.0 C538.1,109.0 539.4,113.2 540.6,117.0 C541.9,120.8 543.1,124.2 544.3,128.0 C545.5,131.8 546.7,136.3 548.0,140.0 C549.3,143.7 550.7,146.7 552.0,150.0 C553.3,153.3 554.8,156.9 555.9,159.9 C557.0,162.9 557.7,165.5 558.5,168.0 C559.3,170.5 559.7,172.5 560.6,175.0 C561.5,177.5 562.8,180.4 564.0,183.0 C565.2,185.6 566.6,188.1 567.9,190.7 C569.2,193.3 570.5,195.9 571.8,198.5 C573.1,201.1 574.5,203.9 575.7,206.4 C576.9,208.9 578.0,211.2 579.2,213.5 C580.4,215.8 581.5,218.1 582.7,220.3 C583.9,222.5 585.2,224.8 586.5,226.8 C587.8,228.8 589.1,230.9 590.5,232.5 C591.9,234.1 593.3,235.4 594.8,236.5 C596.2,237.6 597.7,238.6 599.2,239.3 C600.7,240.0 602.4,240.3 604.0,240.5 C605.6,240.7 607.6,240.6 609.0,240.3 C610.4,240.1 611.3,239.7 612.5,239.0 C613.7,238.3 614.8,237.2 616.0,236.2 C617.2,235.2 618.7,234.0 620.0,232.8 C621.3,231.6 622.7,230.3 623.9,229.0 C625.1,227.7 626.2,226.2 627.4,224.7 C628.5,223.2 629.3,221.8 630.8,220.0 C632.3,218.2 634.7,215.9 636.5,213.8 C638.3,211.7 640.4,209.9 641.8,207.6 C643.2,205.3 643.9,202.5 645.0,200.0 C646.1,197.5 647.4,194.8 648.4,192.4 C649.4,190.0 650.2,187.6 651.0,185.5 C651.8,183.4 652.4,181.8 653.4,180.0 C654.4,178.2 655.4,177.4 656.8,174.9 C658.1,172.4 660.0,168.3 661.5,165.0 C663.0,161.7 664.5,158.4 665.9,155.3 C667.3,152.2 668.6,149.5 670.0,146.5 C671.4,143.5 672.6,140.8 674.1,137.4 C675.6,134.0 677.4,129.7 679.0,126.0 C680.6,122.3 682.2,118.8 683.8,115.0 C685.4,111.2 687.0,107.3 688.5,103.5 C690.0,99.7 691.6,95.2 692.9,92.1 C694.2,89.0 695.2,87.4 696.5,85.0 C697.8,82.6 699.8,78.8 700.4,77.6"/>
<path d="M505.8,32.7 C506.6,34.9 509.0,41.6 510.5,46.0 C512.0,50.4 513.7,55.3 515.0,59.3 C516.3,63.3 517.3,66.5 518.2,70.0 C519.1,73.5 519.7,76.2 520.5,80.0 C521.3,83.8 522.1,88.8 523.1,93.0 C524.1,97.2 525.4,100.8 526.6,105.0 C527.8,109.2 529.3,114.2 530.3,118.0 C531.3,121.8 531.7,124.3 532.5,128.0 C533.3,131.7 534.2,136.7 535.0,140.0 C535.8,143.3 536.7,145.5 537.5,148.0 C538.3,150.5 539.1,151.9 540.0,154.9 C540.9,157.9 542.0,161.8 543.0,166.0 C544.0,170.2 545.1,176.2 546.0,180.0 C546.9,183.8 547.5,186.1 548.3,189.0 C549.0,191.9 549.8,194.4 550.5,197.6 C551.2,200.8 552.0,204.5 552.7,208.0 C553.4,211.5 553.9,215.1 554.8,218.6 C555.6,222.1 556.8,225.4 557.8,229.0 C558.8,232.6 560.0,236.8 561.0,240.0 C562.0,243.2 562.9,245.4 564.0,248.0 C565.1,250.6 566.1,252.9 567.4,255.7 C568.6,258.4 570.0,261.6 571.5,264.5 C573.0,267.4 574.8,270.8 576.1,273.1 C577.4,275.4 578.3,276.9 579.5,278.5 C580.7,280.1 581.7,281.3 583.1,282.7 C584.5,284.1 586.2,285.5 588.0,286.7 C589.8,287.9 591.9,289.0 593.6,289.7 C595.3,290.4 596.5,290.7 598.0,291.0 C599.5,291.3 600.8,291.5 602.3,291.4 C603.8,291.3 605.5,291.0 607.0,290.6 C608.5,290.2 609.4,289.6 611.0,288.8 C612.6,288.0 614.7,286.8 616.5,285.6 C618.3,284.4 620.1,283.4 621.9,281.7 C623.6,280.0 625.4,277.8 627.0,275.7 C628.6,273.6 630.3,271.0 631.8,268.8 C633.3,266.6 634.5,264.5 635.8,262.3 C637.1,260.1 638.3,258.2 639.8,255.8 C641.3,253.4 643.1,250.5 644.8,247.8 C646.4,245.2 648.2,242.6 649.7,239.9 C651.2,237.2 652.2,234.4 653.5,231.5 C654.8,228.6 656.2,225.5 657.3,222.4 C658.4,219.3 659.4,215.9 660.3,213.0 C661.2,210.1 661.8,207.2 662.7,204.8 C663.6,202.4 664.7,201.1 665.8,198.6 C666.9,196.1 668.5,192.8 669.5,190.0 C670.5,187.2 671.2,184.5 672.0,182.0 C672.8,179.5 673.4,178.2 674.3,175.0 C675.2,171.8 676.6,166.5 677.6,163.0 C678.6,159.5 679.5,156.8 680.4,154.0 C681.3,151.2 682.2,148.7 683.2,146.0 C684.2,143.3 685.4,140.7 686.5,138.0 C687.6,135.3 688.6,132.7 689.6,130.0 C690.6,127.3 691.5,124.7 692.5,122.0 C693.5,119.3 694.4,116.4 695.3,114.0 C696.2,111.6 697.0,109.6 697.8,107.5 C698.6,105.4 699.9,102.2 700.3,101.2"/>
<path d="M514.0,88.2 C514.2,89.0 514.5,90.2 515.1,93.0 C515.7,95.8 516.9,101.0 517.8,105.0 C518.7,109.0 519.7,113.7 520.4,117.0 C521.1,120.3 521.4,122.2 522.0,125.0 C522.6,127.8 523.0,130.3 523.8,134.0 C524.6,137.7 525.9,142.7 527.0,147.0 C528.1,151.3 529.4,154.5 530.4,160.0 C531.4,165.5 531.9,174.5 532.7,180.0 C533.5,185.5 534.3,188.7 535.0,193.0 C535.7,197.3 536.3,201.5 537.0,206.0 C537.7,210.5 538.6,215.5 539.4,220.0 C540.2,224.5 540.9,228.8 541.6,233.0 C542.3,237.2 542.6,240.5 543.5,245.0 C544.4,249.5 545.8,255.2 546.9,260.0 C548.0,264.8 549.0,269.7 550.0,274.0 C551.0,278.3 552.0,282.1 553.2,286.0 C554.4,289.9 555.8,294.5 557.0,297.5 C558.2,300.5 559.4,302.0 560.5,304.0 C561.6,306.0 562.7,308.0 563.9,309.7 C565.1,311.4 566.4,312.6 567.9,314.3 C569.4,316.0 571.2,318.0 573.0,319.8 C574.8,321.6 577.0,323.5 578.7,325.0 C580.4,326.5 581.5,327.6 583.0,328.6 C584.5,329.7 585.9,330.6 587.6,331.3 C589.3,332.0 590.9,332.5 593.0,332.8 C595.1,333.1 598.1,333.2 600.1,333.1 C602.1,333.0 603.2,332.8 605.0,332.3 C606.8,331.8 608.6,331.2 611.0,330.1 C613.4,329.0 616.7,327.8 619.5,325.4 C622.3,323.0 625.0,319.9 628.0,316.0 C631.0,312.1 635.0,307.1 637.8,302.0 C640.6,296.9 642.8,289.8 644.8,285.7 C646.8,281.6 647.9,280.1 649.5,277.5 C651.1,274.9 653.0,273.1 654.7,269.8 C656.5,266.6 658.3,262.1 660.0,258.0 C661.7,253.9 663.6,249.2 665.0,245.0 C666.4,240.8 667.3,236.8 668.5,233.0 C669.7,229.2 670.6,225.9 672.0,222.0 C673.4,218.1 675.1,213.8 676.6,209.5 C678.1,205.2 680.0,200.0 681.3,196.1 C682.6,192.2 683.5,189.5 684.5,186.0 C685.5,182.5 686.5,178.8 687.5,175.0 C688.5,171.2 689.4,167.0 690.5,163.0 C691.6,159.0 692.9,154.7 694.0,151.0 C695.1,147.3 696.0,144.4 697.0,141.0 C698.0,137.6 699.8,132.4 700.3,130.7"/>
<path d="M505.9,88.2 C506.1,89.0 506.6,90.2 507.2,93.0 C507.8,95.8 508.9,101.0 509.7,105.0 C510.5,109.0 511.2,112.2 512.1,117.0 C513.1,121.8 514.4,129.0 515.4,134.0 C516.4,139.0 517.1,142.7 518.0,147.0 C518.9,151.3 519.7,154.5 520.5,160.0 C521.3,165.5 522.2,173.3 523.0,180.0 C523.8,186.7 524.7,193.3 525.5,200.0 C526.3,206.7 527.2,213.3 527.8,220.0 C528.4,226.7 528.5,233.3 529.2,240.0 C529.9,246.7 531.0,254.0 531.9,260.0 C532.8,266.0 533.5,270.7 534.5,276.0 C535.5,281.3 536.7,287.2 537.7,292.0 C538.7,296.8 539.5,301.0 540.5,305.0 C541.5,309.0 542.4,312.5 543.6,316.0 C544.8,319.5 546.1,322.7 547.5,326.0 C548.9,329.3 550.3,332.8 551.8,335.8 C553.3,338.8 554.7,341.4 556.3,343.8 C557.9,346.2 559.7,348.5 561.5,350.5 C563.3,352.5 565.0,354.1 567.0,356.0 C569.0,357.9 571.1,360.2 573.3,361.7 C575.5,363.2 577.8,364.1 580.0,365.0 C582.2,365.9 585.6,366.7 586.7,367.0"/>
<path d="M601.9,367.0 C603.4,366.1 607.8,363.6 611.0,361.5 C614.2,359.4 618.2,357.1 621.2,354.7 C624.2,352.3 626.5,349.8 629.0,347.0 C631.5,344.2 633.8,341.2 636.3,338.0 C638.8,334.8 641.5,331.5 644.0,328.0 C646.5,324.5 649.2,320.6 651.5,316.8 C653.8,313.0 655.7,308.6 657.5,305.0 C659.3,301.4 661.0,298.2 662.5,295.0 C664.0,291.8 665.4,289.2 666.8,286.0 C668.1,282.8 669.0,280.1 670.6,275.7 C672.2,271.3 674.7,265.8 676.3,259.8 C677.9,253.9 678.7,246.3 680.0,240.0 C681.3,233.7 682.7,227.3 684.0,222.0 C685.3,216.7 686.7,212.3 688.0,208.0 C689.3,203.7 690.4,199.8 691.7,196.1 C693.0,192.4 694.5,189.1 696.0,186.0 C697.5,182.9 699.8,179.2 700.5,177.8"/>
<path d="M499.0,88.2 C499.1,89.0 499.3,90.2 499.8,93.0 C500.3,95.8 501.4,101.0 502.2,105.0 C503.0,109.0 503.8,112.2 504.6,117.0 C505.5,121.8 506.4,128.5 507.3,134.0 C508.2,139.5 509.2,144.8 510.0,150.0 C510.8,155.2 511.3,160.0 512.0,165.0 C512.7,170.0 513.4,174.2 514.0,180.0 C514.6,185.8 515.2,193.3 515.7,200.0 C516.2,206.7 516.6,213.0 517.0,220.0 C517.4,227.0 517.7,235.3 518.2,242.0 C518.8,248.7 519.7,254.3 520.3,260.0 C520.9,265.7 521.2,270.7 521.7,276.0 C522.2,281.3 522.2,287.2 523.0,292.0 C523.8,296.8 525.2,300.3 526.3,305.0 C527.4,309.7 528.5,316.1 529.5,320.0 C530.5,323.9 531.5,325.8 532.5,328.5 C533.5,331.2 534.9,333.4 535.7,336.0 C536.5,338.6 536.7,341.3 537.2,344.0 C537.7,346.7 537.7,349.3 538.5,352.0 C539.3,354.7 540.7,357.6 542.0,360.0 C543.3,362.4 545.7,365.5 546.4,366.6"/>
<path d="M637.1,366.6 C638.6,364.7 643.0,358.9 646.0,355.0 C649.0,351.1 652.5,346.8 654.8,343.1 C657.1,339.4 658.3,336.5 660.0,333.0 C661.7,329.5 662.9,326.2 665.0,322.0 C667.1,317.8 670.3,312.7 672.5,307.7 C674.7,302.7 676.2,297.3 678.0,292.0 C679.8,286.7 681.5,280.9 683.1,275.9 C684.7,270.9 686.0,266.7 687.5,262.0 C689.0,257.3 690.6,251.4 691.9,247.7 C693.2,244.0 694.2,242.4 695.2,240.0 C696.2,237.6 696.9,235.4 697.8,233.0 C698.7,230.6 700.0,226.9 700.5,225.7"/>
<path d="M492.8,88.2 C492.9,89.0 492.9,90.2 493.4,93.0 C493.9,95.8 494.9,101.0 495.7,105.0 C496.5,109.0 497.3,112.2 498.0,117.0 C498.7,121.8 499.1,128.5 499.9,134.0 C500.6,139.5 501.7,144.8 502.5,150.0 C503.3,155.2 503.9,160.0 504.6,165.0 C505.3,170.0 506.0,174.2 506.6,180.0 C507.2,185.8 507.8,193.3 508.2,200.0 C508.6,206.7 509.0,213.3 509.3,220.0 C509.6,226.7 509.6,232.5 509.9,240.0 C510.2,247.5 510.8,256.3 511.2,265.0 C511.6,273.7 512.2,285.3 512.6,292.0 C513.0,298.7 513.1,300.3 513.7,305.0 C514.3,309.7 515.6,315.8 516.4,320.0 C517.2,324.2 517.7,326.5 518.4,330.0 C519.1,333.5 519.9,337.3 520.8,341.0 C521.7,344.7 522.8,348.8 523.7,352.0 C524.6,355.2 525.4,357.6 526.2,360.0 C527.0,362.4 528.2,365.5 528.6,366.6"/>
<path d="M656.0,366.6 C656.8,364.9 659.0,359.8 660.5,356.5 C662.0,353.2 663.6,350.1 665.1,347.0 C666.6,343.9 667.8,340.8 669.2,337.8 C670.6,334.8 672.0,331.4 673.3,328.8 C674.6,326.2 675.6,324.3 676.8,322.0 C677.9,319.7 679.1,317.7 680.2,315.2 C681.3,312.7 682.3,309.6 683.3,306.8 C684.3,304.0 685.3,301.2 686.3,298.5 C687.3,295.8 688.4,293.3 689.4,290.8 C690.4,288.3 691.3,286.1 692.4,283.3 C693.5,280.5 694.9,277.2 696.2,274.2 C697.5,271.1 699.6,266.5 700.3,265.0"/>
<path d="M486.5,88.2 C486.7,89.0 487.3,90.2 487.8,93.0 C488.3,95.8 489.0,101.0 489.6,105.0 C490.2,109.0 490.5,112.2 491.3,117.0 C492.1,121.8 493.5,128.5 494.3,134.0 C495.1,139.5 495.7,144.8 496.2,150.0 C496.7,155.2 497.1,159.7 497.5,165.0 C497.9,170.3 498.4,174.5 498.8,182.0 C499.2,189.5 499.8,200.3 500.2,210.0 C500.6,219.7 501.0,230.8 501.3,240.0 C501.6,249.2 501.6,255.7 501.8,265.0 C502.0,274.3 501.9,286.8 502.5,296.0 C503.1,305.2 504.6,314.3 505.4,320.0 C506.1,325.7 506.4,326.5 507.0,330.0 C507.6,333.5 508.3,337.3 509.0,341.0 C509.7,344.7 510.4,348.8 511.0,352.0 C511.6,355.2 512.2,357.6 512.8,360.0 C513.4,362.4 514.3,365.5 514.6,366.6"/>
<path d="M480.7,88.2 C480.9,89.0 481.6,90.2 482.1,93.0 C482.6,95.8 483.3,101.0 483.9,105.0 C484.5,109.0 485.1,112.2 485.7,117.0 C486.3,121.8 486.8,128.5 487.4,134.0 C488.0,139.5 488.8,144.8 489.3,150.0 C489.8,155.2 490.2,159.7 490.6,165.0 C491.0,170.3 491.4,176.2 491.7,182.0 C492.0,187.8 492.1,194.3 492.2,200.0 C492.3,205.7 492.3,210.0 492.4,216.0 C492.5,222.0 492.5,227.8 492.7,236.0 C492.9,244.2 493.1,255.3 493.3,265.0 C493.6,274.7 493.7,284.8 494.2,294.0 C494.7,303.2 495.5,313.0 496.2,320.0 C496.9,327.0 497.7,330.7 498.4,336.0 C499.1,341.3 499.8,346.9 500.6,352.0 C501.4,357.1 502.9,364.2 503.3,366.6"/>
<path d="M475.0,88.2 C475.2,89.0 475.8,90.2 476.3,93.0 C476.8,95.8 477.4,101.0 478.0,105.0 C478.6,109.0 479.2,112.2 479.8,117.0 C480.4,121.8 481.2,128.5 481.8,134.0 C482.4,139.5 483.0,145.3 483.4,150.0 C483.8,154.7 484.1,157.8 484.3,162.0 C484.6,166.2 484.8,168.7 484.9,175.0 C485.0,181.3 484.9,189.8 484.9,200.0 C484.9,210.2 484.8,225.2 484.9,236.0 C485.0,246.8 485.2,255.0 485.5,265.0 C485.8,275.0 485.9,286.8 486.4,296.0 C486.8,305.2 487.7,313.3 488.2,320.0 C488.7,326.7 489.1,330.7 489.5,336.0 C489.9,341.3 490.2,346.9 490.9,352.0 C491.5,357.1 493.0,364.2 493.4,366.6"/>
</g>
<text transform="translate(519.8,58.2) scale(0.97,1)" font-family="Liberation Sans" font-size="10.0" fill="#1a1a1a" text-anchor="middle">20</text>
<text transform="translate(513.8,67.6) scale(0.97,1)" font-family="Liberation Sans" font-size="10.0" fill="#1a1a1a" text-anchor="middle">22</text>
<text transform="translate(533.2,74.9) scale(0.97,1)" font-family="Liberation Sans" font-size="10.0" fill="#1a1a1a" text-anchor="middle">18</text>
<text transform="translate(542,65.0) scale(0.97,1)" font-family="Liberation Sans" font-size="10.0" fill="#1a1a1a" text-anchor="middle">16</text>
<text transform="translate(556.1,78.6) scale(0.97,1)" font-family="Liberation Sans" font-size="10.0" fill="#1a1a1a" text-anchor="middle">14</text>
<text transform="translate(610.8,89.0) scale(0.97,1)" font-family="Liberation Sans" font-size="10.0" fill="#1a1a1a" text-anchor="middle">10</text>
<text transform="translate(605.8,114.6) scale(0.97,1)" font-family="Liberation Sans" font-size="10.0" fill="#1a1a1a" text-anchor="middle">12</text>
<text transform="translate(600.5,142.2) scale(0.97,1)" font-family="Liberation Sans" font-size="10.0" fill="#1a1a1a" text-anchor="middle">14</text>
<text transform="translate(666,86.8) scale(0.97,1)" font-family="Liberation Sans" font-size="10.0" fill="#1a1a1a" text-anchor="middle">14</text>
<text transform="translate(673.5,97.3) scale(0.97,1)" font-family="Liberation Sans" font-size="10.0" fill="#1a1a1a" text-anchor="middle">16</text>
<text transform="translate(678.6,113.7) scale(0.97,1)" font-family="Liberation Sans" font-size="10.0" fill="#1a1a1a" text-anchor="middle">18</text>
<text transform="translate(676.4,149.6) scale(0.97,1)" font-family="Liberation Sans" font-size="10.0" fill="#1a1a1a" text-anchor="middle">20</text>
<text transform="translate(588.8,169.5) scale(0.97,1)" font-family="Liberation Sans" font-size="10.0" fill="#1a1a1a" text-anchor="middle">16</text>
<text transform="translate(559.5,208.9) scale(0.97,1)" font-family="Liberation Sans" font-size="10.0" fill="#1a1a1a" text-anchor="middle">20</text>
<text transform="translate(588.6,221.8) scale(0.97,1)" font-family="Liberation Sans" font-size="10.0" fill="#1a1a1a" text-anchor="middle">18</text>
<text transform="translate(655.3,212.0) scale(0.97,1)" font-family="Liberation Sans" font-size="10.0" fill="#1a1a1a" text-anchor="middle">20</text>
<text transform="translate(488.8,141.4) scale(0.97,1)" font-family="Liberation Sans" font-size="10.0" fill="#1a1a1a" text-anchor="middle">34</text>
<text transform="translate(496.6,154.9) scale(0.97,1)" font-family="Liberation Sans" font-size="10.0" fill="#1a1a1a" text-anchor="middle">32</text>
<text transform="translate(504.8,168.5) scale(0.97,1)" font-family="Liberation Sans" font-size="10.0" fill="#1a1a1a" text-anchor="middle">30</text>
<text transform="translate(514.5,201.0) scale(0.97,1)" font-family="Liberation Sans" font-size="10.0" fill="#1a1a1a" text-anchor="middle">28</text>
<text transform="translate(523.7,215.0) scale(0.97,1)" font-family="Liberation Sans" font-size="10.0" fill="#1a1a1a" text-anchor="middle">26</text>
<text transform="translate(534.5,219.2) scale(0.97,1)" font-family="Liberation Sans" font-size="10.0" fill="#1a1a1a" text-anchor="middle">24</text>
<text transform="translate(551.3,257.2) scale(0.97,1)" font-family="Liberation Sans" font-size="10.0" fill="#1a1a1a" text-anchor="middle">22</text>
<text transform="translate(493.1,284.9) scale(0.97,1)" font-family="Liberation Sans" font-size="10.0" fill="#1a1a1a" text-anchor="middle">34</text>
<text transform="translate(501.7,302.9) scale(0.97,1)" font-family="Liberation Sans" font-size="10.0" fill="#1a1a1a" text-anchor="middle">32</text>
<text transform="translate(512.1,317.4) scale(0.97,1)" font-family="Liberation Sans" font-size="10.0" fill="#1a1a1a" text-anchor="middle">30</text>
<text transform="translate(527,339.5) scale(0.97,1)" font-family="Liberation Sans" font-size="10.0" fill="#1a1a1a" text-anchor="middle">28</text>
<text transform="translate(547.4,357.3) scale(0.97,1)" font-family="Liberation Sans" font-size="10.0" fill="#1a1a1a" text-anchor="middle">26</text>
<text transform="translate(570.6,352.3) scale(0.97,1)" font-family="Liberation Sans" font-size="10.0" fill="#1a1a1a" text-anchor="middle">24</text>
<text transform="translate(625.3,269.0) scale(0.97,1)" font-family="Liberation Sans" font-size="10.0" fill="#1a1a1a" text-anchor="middle">20</text>
<text transform="translate(648.2,272.0) scale(0.97,1)" font-family="Liberation Sans" font-size="10.0" fill="#1a1a1a" text-anchor="middle">22</text>
<text transform="translate(661.8,280.4) scale(0.97,1)" font-family="Liberation Sans" font-size="10.0" fill="#1a1a1a" text-anchor="middle">24</text>
<text transform="translate(677.8,275.1) scale(0.97,1)" font-family="Liberation Sans" font-size="10.0" fill="#1a1a1a" text-anchor="middle">26</text>
<text transform="translate(672.6,320.2) scale(0.97,1)" font-family="Liberation Sans" font-size="10.0" fill="#1a1a1a" text-anchor="middle">28</text>
<rect x="456.0" y="27.5" width="249.39999999999998" height="345.0" fill="none" stroke="#4e4e4e" stroke-width="1.1"/>
<line x1="461.0" y1="370.7" x2="461.0" y2="374.7" stroke="#4e4e4e" stroke-width="1"/>
<line x1="508.8" y1="370.7" x2="508.8" y2="374.7" stroke="#4e4e4e" stroke-width="1"/>
<line x1="556.6" y1="370.7" x2="556.6" y2="374.7" stroke="#4e4e4e" stroke-width="1"/>
<line x1="604.4" y1="370.7" x2="604.4" y2="374.7" stroke="#4e4e4e" stroke-width="1"/>
<line x1="652.2" y1="370.7" x2="652.2" y2="374.7" stroke="#4e4e4e" stroke-width="1"/>
<line x1="700.0" y1="370.7" x2="700.0" y2="374.7" stroke="#4e4e4e" stroke-width="1"/>
<line x1="457.6" y1="32.8" x2="454.0" y2="32.8" stroke="#4e4e4e" stroke-width="1"/>
<line x1="457.6" y1="80.5" x2="454.0" y2="80.5" stroke="#4e4e4e" stroke-width="1"/>
<line x1="457.6" y1="128.3" x2="454.0" y2="128.3" stroke="#4e4e4e" stroke-width="1"/>
<line x1="457.6" y1="176.0" x2="454.0" y2="176.0" stroke="#4e4e4e" stroke-width="1"/>
<line x1="457.6" y1="223.8" x2="454.0" y2="223.8" stroke="#4e4e4e" stroke-width="1"/>
<line x1="457.6" y1="271.5" x2="454.0" y2="271.5" stroke="#4e4e4e" stroke-width="1"/>
<line x1="457.6" y1="319.2" x2="454.0" y2="319.2" stroke="#4e4e4e" stroke-width="1"/>
<line x1="457.6" y1="367.0" x2="454.0" y2="367.0" stroke="#4e4e4e" stroke-width="1"/>
<text x="462.7" y="390.6" font-family="Liberation Sans" font-size="14.6" fill="#222" text-anchor="middle">-2</text>
<text x="701.1" y="390.6" font-family="Liberation Sans" font-size="14.6" fill="#222" text-anchor="middle">3</text>
<text transform="translate(580.5,393.7) scale(1.055,1)" font-family="Liberation Sans" font-size="14.7" fill="#222" text-anchor="middle">RDA Axis 1</text>
<text transform="translate(447.5,32.5) rotate(-90)" font-family="Liberation Sans" font-size="14.6" fill="#222" text-anchor="middle">3</text>
<text transform="translate(447.0,364.6) rotate(-90)" font-family="Liberation Sans" font-size="14.6" fill="#222" text-anchor="middle">-4</text>
<text transform="translate(444.4,200.2) rotate(-90) scale(1.055,1)" font-family="Liberation Sans" font-size="14.7" fill="#222" text-anchor="middle">RDA Axis 2</text>
</svg>
</body></html>
